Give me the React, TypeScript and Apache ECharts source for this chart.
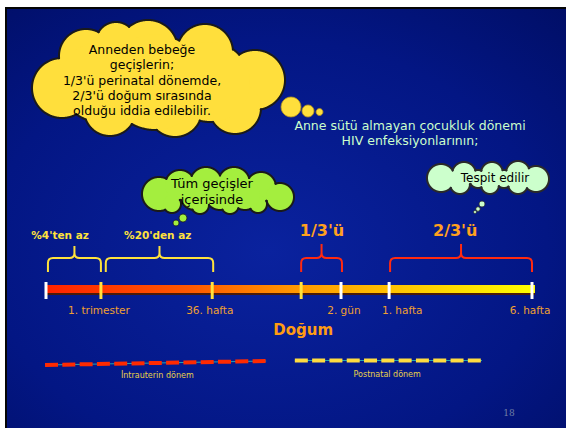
import { useEffect, useRef } from 'react';
import * as echarts from 'echarts';

// Timeline stops, as a share (%) of the span from conception to the 6th postnatal week
const stopPositions = [0, 11.3, 34.2, 52.5, 60.7, 70.6, 100];
const stopColors = ['#ffffff', '#ffe23c', '#ffe23c', '#ffe23c', '#ffffff', '#ffffff', '#ffffff'];
const stopLabels = ['', '1. trimester', '36. hafta', '', '2. gün', '1. hafta', '6. hafta'];
const stopLabelAt = [0, 10.9, 33.7, 52.5, 61.3, 73.3, 99.6];
const birthLabel = 'Doğum';
const birthIndex = 3;

// Brackets above the timeline
const braceStarts = [0.4, 12.3, 52.5, 70.8];
const braceEnds = [11.3, 34.4, 60.9, 100];
const braceLabels = ["%4'ten az", "%20'den az", "1/3'ü", "2/3'ü"];
const braceLabelAt = [2.9, 23.0, 56.8, 84.2];
const braceMajor = [false, false, true, true];

// Periods below the timeline
const periodNames = ['İntrauterin dönem', 'Postnatal dönem'];
const periodStarts = [-0.2, 51.2];
const periodEnds = [45.3, 89.7];
const periodLabelAt = [22.9, 70.2];

// Callout texts
const motherText = 'Anneden bebeğe\ngeçişlerin;\n1/3\'ü perinatal dönemde,\n2/3\'ü doğum sırasında\nolduğu iddia edilebilir.';
const allText = 'Tüm geçişler\niçerisinde';
const childText = 'Anne sütü almayan çocukluk dönemi\nHIV enfeksiyonlarının;';
const detectText = 'Tespit edilir';
const pageNumber = '18';

const FONT = '"DejaVu Sans", sans-serif';

type Lobe = [number, number, number];

// Outer contour of a union of circles: for each lobe, the runs of its rim that
// lie outside every other lobe, returned as polylines.
function contour(lobes: Lobe[]): number[][][] {
  const runs: number[][][] = [];
  const step = 3;
  lobes.forEach(([cx, cy, r], i) => {
    const outside = (deg: number) => {
      const t = (deg * Math.PI) / 180;
      const x = cx + r * Math.cos(t);
      const y = cy + r * Math.sin(t);
      return lobes.every(([ox, oy, orad], j) => j === i || Math.hypot(x - ox, y - oy) >= orad - 0.3);
    };
    let start = -1;
    for (let d = 0; d < 360; d += step) {
      if (!outside(d)) {
        start = d;
        break;
      }
    }
    if (start < 0) {
      const pts: number[][] = [];
      for (let d = 0; d <= 360; d += step) {
        const t = (d * Math.PI) / 180;
        pts.push([cx + r * Math.cos(t), cy + r * Math.sin(t)]);
      }
      runs.push(pts);
      return;
    }
    let cur: number[][] | null = null;
    for (let k = 0; k <= 360; k += 1) {
      const d = start + k;
      const t = (d * Math.PI) / 180;
      const p = [cx + r * Math.cos(t), cy + r * Math.sin(t)];
      if (outside(d)) {
        if (!cur) cur = [];
        cur.push(p);
      } else if (cur) {
        if (cur.length > 1) runs.push(cur);
        cur = null;
      }
    }
    if (cur && cur.length > 1) runs.push(cur);
  });
  return runs;
}

function cloud(lobes: Lobe[], fill: string, stroke: string) {
  const fills = lobes.map(([cx, cy, r]) => ({
    type: 'circle',
    z: 1,
    shape: { cx, cy, r },
    style: { fill },
  }));
  const rims = contour(lobes).map((points) => ({
    type: 'polyline',
    z: 2,
    shape: { points },
    style: { stroke, lineWidth: 2, fill: 'none', lineJoin: 'round', lineCap: 'round' },
  }));
  return [...fills, ...rims];
}

function bubbles(list: Lobe[], fill: string, stroke: string) {
  return list.map(([cx, cy, r]) => ({
    type: 'circle',
    z: 2,
    shape: { cx, cy, r },
    style: { fill, stroke, lineWidth: 0.8 },
  }));
}

function text(x: number, y: number, t: string, fill: string, font: string, lineHeight?: number) {
  return {
    type: 'text',
    z: 3,
    x,
    y,
    style: {
      text: t,
      fill,
      font,
      lineHeight,
      align: 'center',
      verticalAlign: 'middle',
      textAlign: 'center',
      textVerticalAlign: 'middle',
    },
  };
}

function bracePath(x0: number, x1: number, yb: number, yh: number, yp: number) {
  const xm = (x0 + x1) / 2;
  const r = 5;
  return [
    `M${x0} ${yb}`,
    `L${x0} ${yh + r}`,
    `Q${x0} ${yh} ${x0 + r} ${yh}`,
    `L${xm - r} ${yh}`,
    `Q${xm} ${yh} ${xm} ${yh - r}`,
    `L${xm} ${yp}`,
    `M${xm} ${yh - r}`,
    `Q${xm} ${yh} ${xm + r} ${yh}`,
    `L${x1 - r} ${yh}`,
    `Q${x1} ${yh} ${x1} ${yh + r}`,
    `L${x1} ${yb}`,
  ].join(' ');
}

export default function App() {
  const ref = useRef<HTMLDivElement>(null);

  useEffect(() => {
    if (!ref.current) return;
    const chart = echarts.init(ref.current, null, { renderer: 'svg' });

    const slide = [
      { type: 'rect', z: 0, shape: { x: 5, y: 7, width: 580, height: 440 }, style: { fill: '#050505' } },
      {
        type: 'rect',
        z: 0,
        shape: { x: 7, y: 9, width: 580, height: 440 },
        style: {
          fill: {
            type: 'radial',
            x: 0.45,
            y: 0.55,
            r: 0.8,
            colorStops: [
              { offset: 0, color: '#0a229e' },
              { offset: 0.6, color: '#031684' },
              { offset: 1, color: '#000d62' },
            ],
          },
        },
      },
    ];

    const yellowCloud = cloud(
      [
        [62, 88, 30],
        [86, 56, 27],
        [116, 42, 20],
        [148, 50, 30],
        [205, 52, 28],
        [255, 80, 30],
        [235, 108, 26],
        [175, 110, 27],
        [110, 110, 26],
        [155, 82, 48],
        [100, 82, 40],
        [210, 82, 40],
      ],
      '#ffdf3c',
      '#1a1a1a',
    );

    const greenCloud = cloud(
      [
        [159, 194, 17],
        [180, 185, 15],
        [206, 183, 16],
        [234, 183, 16],
        [261, 187, 15],
        [280, 197, 14],
        [172, 204, 9],
        [200, 205, 9],
        [230, 205, 9],
        [258, 204, 9],
        [195, 195, 15],
        [220, 195, 15],
        [245, 195, 15],
      ],
      '#a4ee3e',
      '#1a1a1a',
    );

    const mintCloud = cloud(
      [
        [441, 178, 14],
        [464, 174, 12],
        [492, 173, 11],
        [518, 173, 12],
        [536, 179, 13],
        [518, 184, 10],
        [490, 185, 9],
        [460, 184, 10],
        [478, 179, 9],
        [504, 179, 9],
      ],
      '#ccffcc',
      '#2a2a2a',
    );

    const graphic = [
      ...slide,
      ...yellowCloud,
      ...bubbles(
        [
          [291, 107, 10],
          [308, 111, 6],
          [319.5, 112, 3.5],
        ],
        '#ffdf3c',
        '#b09020',
      ),
      text(142, 80, motherText, '#000000', `12.5px ${FONT}`, 15.2),
      ...greenCloud,
      ...bubbles(
        [
          [183, 218, 4],
          [176, 223, 3],
        ],
        '#a4ee3e',
        '#1a1a1a',
      ),
      text(212, 191, allText, '#000000', `13px ${FONT}`, 16),
      ...mintCloud,
      ...bubbles(
        [
          [482, 204, 3],
          [478, 209, 2.2],
          [475, 212, 1.5],
        ],
        '#ccffcc',
        '#2a2a2a',
      ),
      text(495, 178, detectText, '#000000', `12px ${FONT}`),
      text(410, 132.5, childText, '#ccffcc', `12.5px ${FONT}`, 15),
      {
        type: 'text',
        z: 3,
        x: 509,
        y: 413,
        style: {
          text: pageNumber,
          fill: '#6f7fa6',
          font: '9px "DejaVu Serif", serif',
          align: 'center',
          verticalAlign: 'middle',
          textAlign: 'center',
          textVerticalAlign: 'middle',
        },
      },
    ];

    const barGradient = {
      type: 'linear',
      x: 0,
      y: 0,
      x2: 1,
      y2: 0,
      colorStops: [
        { offset: 0, color: '#ff2200' },
        { offset: 0.3, color: '#ff5a00' },
        { offset: 0.52, color: '#ff9a00' },
        { offset: 0.72, color: '#ffc400' },
        { offset: 1, color: '#ffff00' },
      ],
    };

    const option = {
      animation: false,
      backgroundColor: '#ffffff',
      grid: { left: 46, right: 34, top: 275, height: 30 },
      xAxis: { type: 'value', min: 0, max: 100, show: false },
      yAxis: { type: 'value', min: 0, max: 1, show: false },
      graphic,
      series: [
        {
          // the timeline bar
          type: 'custom',
          z: 10,
          data: [[stopPositions[0], stopPositions[stopPositions.length - 1]]],
          encode: { x: [0, 1] },
          renderItem: (_p: any, api: any) => {
            const a = api.coord([api.value(0), 0.5]);
            const b = api.coord([api.value(1), 0.5]);
            const w = b[0] - a[0] + 3;
            return {
              type: 'group',
              children: [
                { type: 'rect', shape: { x: a[0], y: a[1] - 4, width: w, height: 9 }, style: { fill: '#4a1a08' } },
                { type: 'rect', shape: { x: a[0], y: a[1] - 5, width: w, height: 8 }, style: { fill: barGradient } },
              ],
            };
          },
        },
        {
          // stop marks
          type: 'custom',
          z: 11,
          data: stopPositions.map((p, i) => [p, i]),
          encode: { x: 0 },
          renderItem: (params: any, api: any) => {
            const c = api.coord([api.value(0), 0.5]);
            return {
              type: 'rect',
              shape: { x: c[0] - 1.5, y: c[1] - 8, width: 3, height: 17 },
              style: { fill: stopColors[params.dataIndex] },
            };
          },
        },
        {
          // stop labels and the birth label
          type: 'custom',
          z: 11,
          data: stopLabelAt.map((p, i) => [p, i]),
          encode: { x: 0 },
          renderItem: (params: any, api: any) => {
            const i = params.dataIndex;
            const c = api.coord([api.value(0), 0.5]);
            const children: any[] = [];
            if (stopLabels[i]) {
              children.push({
                type: 'text',
                x: c[0],
                y: c[1] + 20,
                style: {
                  text: stopLabels[i],
                  fill: '#f0a030',
                  font: `10.5px ${FONT}`,
                  align: 'center',
                  verticalAlign: 'middle',
                },
              });
            }
            if (i === birthIndex) {
              children.push({
                type: 'text',
                x: c[0] + 2,
                y: c[1] + 40,
                style: {
                  text: birthLabel,
                  fill: '#ff9c12',
                  font: `bold 15px ${FONT}`,
                  align: 'center',
                  verticalAlign: 'middle',
                },
              });
            }
            return { type: 'group', children };
          },
        },
        {
          // brackets with their shares
          type: 'custom',
          z: 11,
          data: braceStarts.map((s, i) => [s, braceEnds[i], braceLabelAt[i]]),
          encode: { x: [0, 1] },
          renderItem: (params: any, api: any) => {
            const i = params.dataIndex;
            const a = api.coord([api.value(0), 0.5]);
            const b = api.coord([api.value(1), 0.5]);
            const l = api.coord([api.value(2), 0.5]);
            const cy = a[1];
            const major = braceMajor[i];
            const color = major ? '#ff2a10' : '#ffe23c';
            return {
              type: 'group',
              children: [
                {
                  type: 'path',
                  shape: { pathData: bracePath(a[0], b[0], cy - 18, cy - 32, major ? cy - 46 : cy - 44) },
                  style: { stroke: color, lineWidth: 2, fill: 'none' },
                },
                {
                  type: 'text',
                  x: l[0],
                  y: major ? cy - 60 : cy - 55,
                  style: {
                    text: braceLabels[i],
                    fill: major ? '#ffa01e' : '#ffe23c',
                    font: major ? `bold 16px ${FONT}` : `bold 10.5px ${FONT}`,
                    align: 'center',
                    verticalAlign: 'middle',
                  },
                },
              ],
            };
          },
        },
        {
          // intrauterine and postnatal periods
          type: 'custom',
          z: 11,
          data: periodStarts.map((s, i) => [s, periodEnds[i], periodLabelAt[i]]),
          encode: { x: [0, 1] },
          renderItem: (params: any, api: any) => {
            const i = params.dataIndex;
            const a = api.coord([api.value(0), 0.5]);
            const b = api.coord([api.value(1), 0.5]);
            const l = api.coord([api.value(2), 0.5]);
            const cy = a[1];
            const y0 = i === 0 ? cy + 75 : cy + 70.5;
            const y1 = i === 0 ? cy + 71 : cy + 70.5;
            const dash = i === 0 ? '#ff2a00' : '#ffdc40';
            return {
              type: 'group',
              children: [
                {
                  type: 'line',
                  shape: { x1: a[0], y1: y0, x2: b[0], y2: y1 },
                  style: { stroke: '#22a6b0', lineWidth: 1 },
                },
                {
                  type: 'line',
                  shape: { x1: a[0], y1: y0, x2: b[0], y2: y1 },
                  style: { stroke: dash, lineWidth: 4, lineDash: [13, 4.3] },
                },
                {
                  type: 'text',
                  x: l[0],
                  y: i === 0 ? cy + 85 : cy + 84,
                  style: {
                    text: periodNames[i],
                    fill: '#e8d04a',
                    font: `8px ${FONT}`,
                    align: 'center',
                    verticalAlign: 'middle',
                  },
                },
              ],
            };
          },
        },
      ],
    };

    chart.setOption(option as any);
    return () => chart.dispose();
  }, []);

  return (
    <div
      ref={ref}
      style={{ position: 'absolute', left: 0, top: 0, width: 566, height: 428 }}
    />
  );
}
